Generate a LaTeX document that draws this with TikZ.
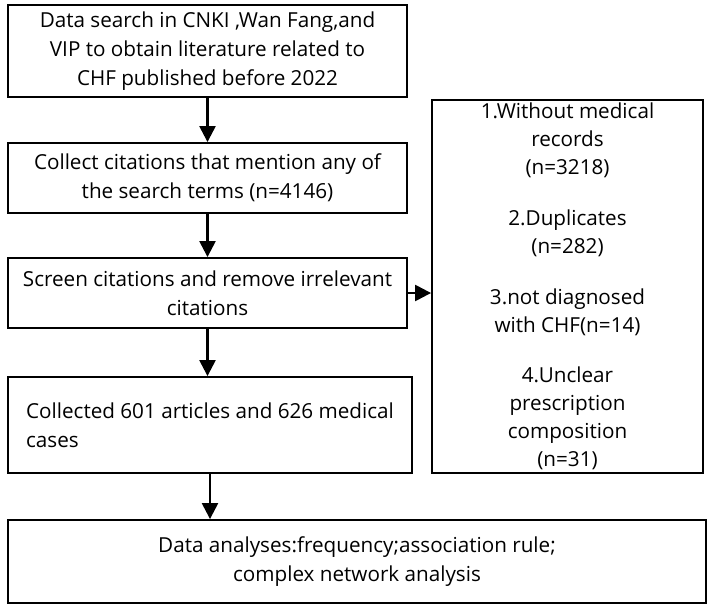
\documentclass[tikz,border=0pt]{standalone}
\usepackage{fontspec}
\setmainfont{Open Sans}
\usetikzlibrary{arrows.meta}
\begin{document}
\begin{tikzpicture}[x=0.75pt,y=-0.75pt,
box/.style={draw,line width=1.4pt,inner sep=0pt,align=center,font=\fontsize{15.5pt}{22pt}\selectfont},
arr/.style={-{Triangle[length=12pt,width=12pt]},line width=1.8pt}]
\useasboundingbox (0,0) rectangle (709,609);
\node[box,minimum width=0.75*399pt,minimum height=0.75*92pt] (b1) at (207.5,51) {Data search in CNKI ,Wan Fang,and\\VIP to obtain literature related to\\CHF published before 2022};
\node[box,minimum width=0.75*399pt,minimum height=0.75*70pt] (b2) at (207.5,178) {Collect citations that mention any of\\the search terms (n=4146)};
\node[box,minimum width=0.75*399pt,minimum height=0.75*70pt] (b3) at (207.5,293) {Screen citations and remove irrelevant\\citations};
\node[box,minimum width=0.75*404pt,minimum height=0.75*96pt,align=left] (b4) at (210,425) {Collected 601 articles and 626 medical\\cases};
\node[box,minimum width=0.75*698pt,minimum height=0.75*83pt] (b5) at (357,561.5) {Data analyses:frequency;association rule;\\complex network analysis};
\node[box,minimum width=0.75*271pt,minimum height=0.75*373pt,font=\fontsize{15.5pt}{21pt}\selectfont] (r) at (567.5,286.5) {1.Without medical\\records\\(n=3218)\\[17pt]2.Duplicates\\(n=282)\\[17pt]3.not diagnosed\\with CHF(n=14)\\[17pt]4.Unclear\\prescription\\composition\\(n=31)};
\draw[arr] (b1) -- (b2);
\draw[arr] (b2) -- (b3);
\draw[arr] (b3) -- (b3 |- b4.north);
\draw[arr] (b4) -- (b4 |- b5.north);
\draw[arr] (b3.east) -- (b3.east -| r.west);
\end{tikzpicture}
\end{document}
